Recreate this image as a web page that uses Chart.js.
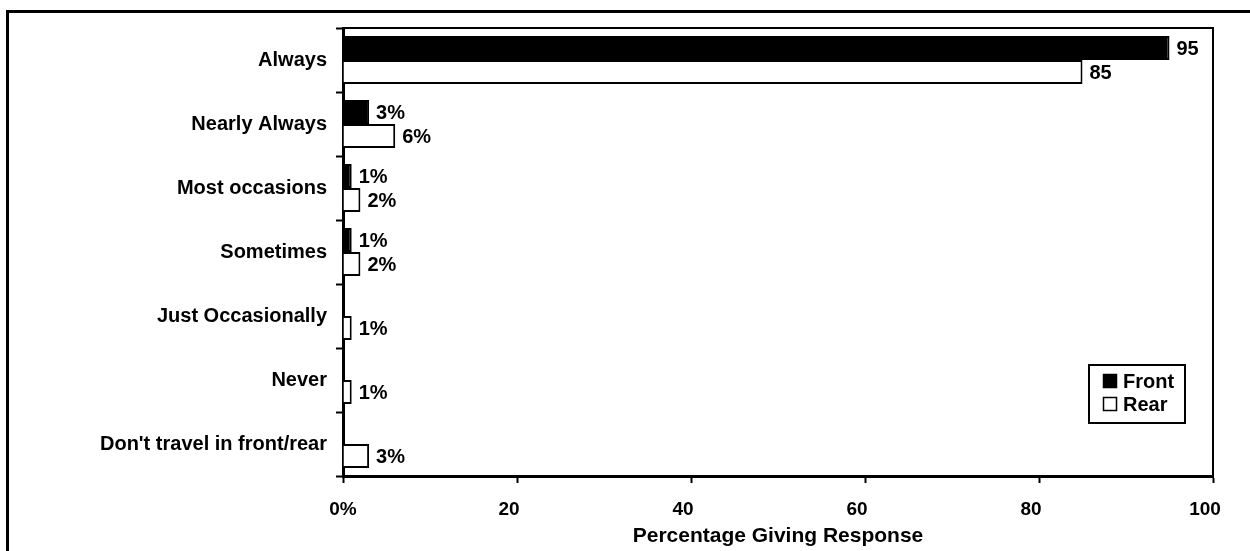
<!DOCTYPE html>
<html>
<head>
<meta charset="utf-8">
<script src="https://cdn.jsdelivr.net/npm/chart.js@4/dist/chart.umd.min.js"></script>
<style>
  html, body { margin: 0; padding: 0; background: #fff; }
  canvas { display: block; }
</style>
</head>
<body>
<canvas id="seatbeltChart" width="1250" height="551"></canvas>
<script>
// Risposte per categoria
const categories = ['Always', 'Nearly Always', 'Most occasions', 'Sometimes',
                    'Just Occasionally', 'Never', "Don't travel in front/rear"];
const frontValues = [95, 3, 1, 1, 0, 0, 0];
const rearValues = [85, 6, 2, 2, 1, 1, 3];
const xTicks = [0, 20, 40, 60, 80, 100];

const FONT = 'Liberation Sans, Arial, Helvetica, sans-serif';

// Cornice esterna e riquadro dell'area del grafico
const framePlugin = {
    id: 'frame',
    beforeDraw(chart) {
        const ctx = chart.ctx;
        ctx.save();
        ctx.fillStyle = '#fff';
        ctx.fillRect(0, 0, chart.width, chart.height);
        ctx.strokeStyle = '#000';
        ctx.lineWidth = 3;
        ctx.beginPath();
        ctx.moveTo(7.5, chart.height);
        ctx.lineTo(7.5, 11.5);
        ctx.lineTo(chart.width, 11.5);
        ctx.stroke();
        ctx.restore();
    },
    afterDraw(chart) {
        const a = chart.chartArea;
        const ctx = chart.ctx;
        ctx.save();
        ctx.strokeStyle = '#000';
        ctx.lineWidth = 2;
        ctx.beginPath();
        ctx.moveTo(a.left, a.top);
        ctx.lineTo(a.right, a.top);
        ctx.lineTo(a.right, a.bottom);
        ctx.stroke();
        ctx.restore();
    }
};

// Etichette dei valori a destra delle barre
const valueLabels = {
    id: 'valueLabels',
    afterDatasetsDraw(chart) {
        const ctx = chart.ctx;
        ctx.save();
        ctx.font = 'bold 20px ' + FONT;
        ctx.fillStyle = '#000';
        ctx.textAlign = 'left';
        ctx.textBaseline = 'middle';
        chart.data.datasets.forEach((ds, d) => {
            chart.getDatasetMeta(d).data.forEach((bar, i) => {
                const v = ds.data[i];
                if (!v) return;
                const text = i === 0 ? String(v) : v + '%';
                ctx.fillText(text, bar.x + 7, bar.y + 1);
            });
        });
        ctx.restore();
    }
};

// Legenda in basso a destra con bordo
const boxLegend = {
    id: 'boxLegend',
    afterDraw(chart) {
        const ctx = chart.ctx;
        const x = 1089, y = 365, w = 96, h = 58;
        ctx.save();
        ctx.strokeStyle = '#000';
        ctx.lineWidth = 2;
        ctx.strokeRect(x, y, w, h);
        ctx.font = 'bold 20px ' + FONT;
        ctx.textBaseline = 'middle';
        ctx.textAlign = 'left';
        chart.data.datasets.forEach((ds, i) => {
            const sy = y + 9 + i * 23;
            ctx.fillStyle = ds.backgroundColor;
            ctx.fillRect(x + 14, sy, 14, 14);
            ctx.lineWidth = 1.5;
            ctx.strokeRect(x + 14.5, sy + 0.5, 13, 13);
            ctx.fillStyle = '#000';
            ctx.fillText(ds.label, x + 34, sy + 8);
        });
        ctx.restore();
    }
};

const ctx1 = document.getElementById('seatbeltChart').getContext('2d');
const seatbeltChart = new Chart(ctx1, {
    type: 'bar',
    data: {
        labels: categories,
        datasets: [{
            label: 'Front',
            data: frontValues,
            backgroundColor: '#000',
            borderColor: '#000',
            borderWidth: 2
        }, {
            label: 'Rear',
            data: rearValues,
            backgroundColor: '#fff',
            borderColor: '#000',
            borderWidth: 2
        }]
    },
    options: {
        indexAxis: 'y',
        responsive: false,
        animation: false,
        categoryPercentage: 0.75,
        barPercentage: 1,
        layout: {
            padding: { top: 28, right: 37, bottom: 0, left: 0 }
        },
        plugins: {
            legend: { display: false },
            tooltip: { enabled: false }
        },
        scales: {
            x: {
                min: 0,
                max: 100,
                afterBuildTicks: (scale) => {
                    scale.ticks = xTicks.map(v => ({ value: v }));
                },
                afterFit: (scale) => {
                    scale.height = 75;
                    scale.paddingLeft = 0;
                    scale.paddingRight = 0;
                },
                grid: {
                    drawOnChartArea: false,
                    tickLength: 7,
                    tickWidth: 2,
                    color: '#000'
                },
                border: { color: '#000', width: 3 },
                ticks: {
                    padding: 15,
                    color: '#000',
                    font: { family: FONT, size: 19, weight: 'bold' },
                    // spazi finali: le etichette numeriche stanno un po' a sinistra del segno
                    callback: (v) => v === 0 ? '0%' : v + '   '
                },
                title: {
                    display: true,
                    text: 'Percentage Giving Response',
                    color: '#000',
                    padding: { top: 0, bottom: 2 },
                    font: { family: FONT, size: 21, weight: 'bold' }
                }
            },
            y: {
                afterFit: (scale) => { scale.width = 343; },
                grid: {
                    drawOnChartArea: false,
                    offset: true,
                    tickLength: 7,
                    tickWidth: 2,
                    color: '#000'
                },
                border: { color: '#000', width: 3 },
                ticks: {
                    padding: 9,
                    color: '#000',
                    font: { family: FONT, size: 20, weight: 'bold' }
                }
            }
        }
    },
    plugins: [framePlugin, valueLabels, boxLegend]
});
</script>
</body>
</html>
